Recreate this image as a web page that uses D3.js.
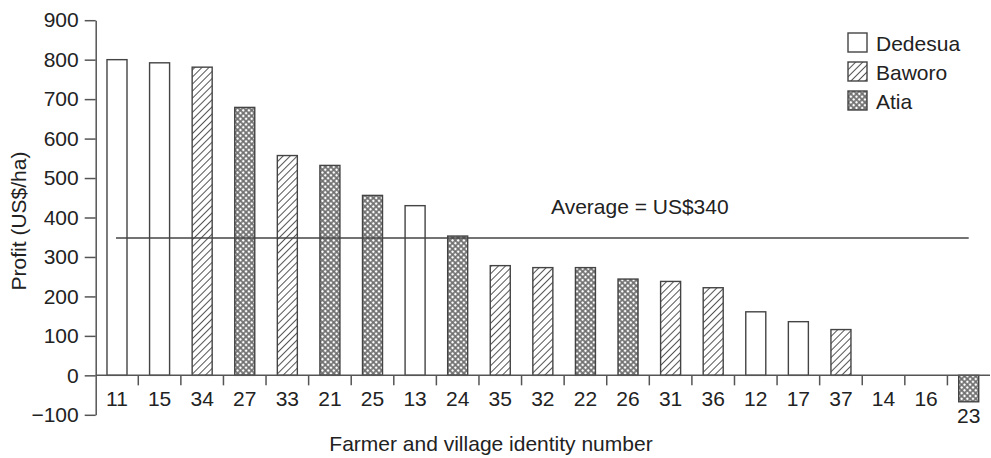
<!DOCTYPE html>
<html>
<head>
<meta charset="utf-8">
<script src="https://cdn.jsdelivr.net/npm/d3@7/dist/d3.min.js"></script>
<style>
  html, body { margin: 0; padding: 0; background: #fff; }
  svg { display: block; }
  text { font-family: "Liberation Sans", Arial, sans-serif; fill: #222; }
</style>
</head>
<body>
<svg id="chart" width="991" height="458"></svg>
<script>
// ---- data ----
const farmers  = ["11","15","34","27","33","21","25","13","24","35","32","22","26","31","36","12","17","37","14","16","23"];
const profits  = [800, 792, 781, 679, 557, 532, 456, 430, 353, 278, 273, 273, 244, 238, 222, 161, 136, 116, 0, 0, -67];
const villages = ["Dedesua","Dedesua","Baworo","Atia","Baworo","Atia","Atia","Dedesua","Atia","Baworo","Baworo","Atia","Atia","Baworo","Baworo","Dedesua","Dedesua","Baworo","Dedesua","Dedesua","Atia"];
const legendNames = ["Dedesua","Baworo","Atia"];
const yTicks = [-100, 0, 100, 200, 300, 400, 500, 600, 700, 800, 900];
const averageValue = 348;
const averageLabel = "Average = US$340";
const xTitle = "Farmer and village identity number";
const yTitle = "Profit (US$/ha)";

const data = farmers.map((f, i) => ({ id: f, value: profits[i], village: villages[i] }));

const svg = d3.select("#chart");
const axisColor = "#555";
const barStroke = "#444";
const FS = "21px";

// ---- patterns ----
const defs = svg.append("defs");
const hatch = defs.append("pattern").attr("id", "hatch")
  .attr("patternUnits", "userSpaceOnUse").attr("width", 5).attr("height", 5)
  .attr("patternTransform", "rotate(45)");
hatch.append("rect").attr("width", 5).attr("height", 5).attr("fill", "#fff");
hatch.append("line").attr("x1", 0).attr("y1", 0).attr("x2", 0).attr("y2", 5)
  .attr("stroke", "#555").attr("stroke-width", 2);

const dots = defs.append("pattern").attr("id", "dots")
  .attr("patternUnits", "userSpaceOnUse").attr("width", 4).attr("height", 4)
  .attr("patternTransform", "rotate(45)");
dots.append("rect").attr("width", 4).attr("height", 4).attr("fill", "#707070");
dots.append("circle").attr("cx", 2).attr("cy", 2).attr("r", 1.3).attr("fill", "#fff");

const fillFor = v => v === "Dedesua" ? "#fff" : v === "Baworo" ? "url(#hatch)" : "url(#dots)";

// ---- scales ----
const x = d3.scaleBand().domain(farmers).range([95.7, 990])
  .paddingInner(0.53).paddingOuter(0.265);
const y = d3.scaleLinear().domain([-100, 900]).range([414.8, 20.2]);
const step = x.step();
const x0 = x.range()[0];

// ---- bars ----
svg.append("g").selectAll("rect").data(data.filter(d => d.value !== 0)).join("rect")
  .attr("x", d => x(d.id))
  .attr("width", x.bandwidth())
  .attr("y", d => y(Math.max(0, d.value)))
  .attr("height", d => Math.abs(y(d.value) - y(0)))
  .attr("fill", d => fillFor(d.village))
  .attr("stroke", barStroke).attr("stroke-width", 1.4);

// ---- y axis ----
const yAxis = svg.append("g").attr("transform", `translate(${x0},0)`)
  .call(d3.axisLeft(y).tickValues(yTicks).tickSize(11).tickSizeOuter(0).tickPadding(6));
yAxis.select(".domain").attr("stroke", axisColor).attr("stroke-width", 1.5);
yAxis.selectAll(".tick line").attr("stroke", axisColor).attr("stroke-width", 1.5);
yAxis.selectAll(".tick text").style("font-size", FS).attr("fill", "#222")
  .style("font-family", "'Liberation Sans', Arial, sans-serif")
  .text(d => d < 0 ? "\u2212" + Math.abs(d) : d);

// ---- x axis (zero line + boundary ticks) ----
svg.append("line").attr("x1", x0).attr("x2", 990).attr("y1", y(0)).attr("y2", y(0))
  .attr("stroke", axisColor).attr("stroke-width", 1.5);
const boundaries = d3.range(1, farmers.length).map(i => x0 + i * step);
svg.append("g").selectAll("line").data(boundaries).join("line")
  .attr("x1", d => d).attr("x2", d => d)
  .attr("y1", y(0)).attr("y2", y(0) + 10)
  .attr("stroke", axisColor).attr("stroke-width", 1.5);

svg.append("g").selectAll("text").data(data).join("text")
  .attr("x", d => x(d.id) + x.bandwidth() / 2)
  .attr("y", d => d.value < 0 ? y(d.value) + 21 : y(0) + 31)
  .attr("text-anchor", "middle")
  .style("font-size", FS)
  .text(d => d.id);

// ---- average line ----
svg.append("line")
  .attr("x1", x(farmers[0]) + x.bandwidth() / 2 - 1)
  .attr("x2", x(farmers[farmers.length - 1]) + x.bandwidth() / 2)
  .attr("y1", y(averageValue)).attr("y2", y(averageValue))
  .attr("stroke", "#444").attr("stroke-width", 1.5);
svg.append("text").attr("x", 551).attr("y", y(averageValue) - 24)
  .style("font-size", FS).text(averageLabel);

// ---- titles ----
svg.append("text").attr("x", 491).attr("y", 451).attr("text-anchor", "middle")
  .style("font-size", FS).text(xTitle);
svg.append("text").attr("transform", "translate(26,221) rotate(-90)")
  .attr("text-anchor", "middle").style("font-size", FS).text(yTitle);

// ---- legend ----
const legend = svg.append("g").attr("transform", "translate(848,33)");
legendNames.forEach((name, i) => {
  const g = legend.append("g").attr("transform", `translate(0,${i * 29})`);
  g.append("rect").attr("width", 19).attr("height", 19)
    .attr("fill", fillFor(name)).attr("stroke", barStroke).attr("stroke-width", 1.4);
  g.append("text").attr("x", 28).attr("y", 18).style("font-size", FS).text(name);
});
</script>
</body>
</html>
